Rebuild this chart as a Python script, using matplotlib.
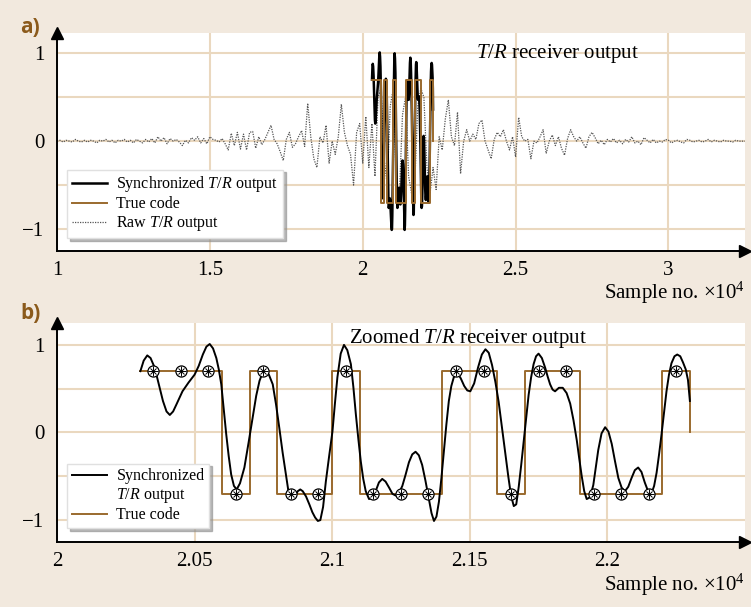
import numpy as np
import matplotlib.pyplot as plt
from matplotlib.lines import Line2D

plt.rcParams['font.family'] = 'Liberation Serif'
plt.rcParams['mathtext.fontset'] = 'custom'
plt.rcParams['mathtext.rm'] = 'Liberation Serif'
plt.rcParams['mathtext.it'] = 'Liberation Serif:italic'

# raw T/R output, one value every 0.01 (x10^4 samples) starting at 1.00
raw_start = 1.00
raw_step = 0.01
raw_vals = [
    0.00, 0.01, -0.01, 0.01, 0.00, -0.01, 0.02, 0.00, -0.01, 0.01,      # 1.00
    -0.01, 0.01, 0.00, -0.02, 0.01, 0.00, 0.02, -0.01, 0.01, -0.02,     # 1.10
    0.01, 0.00, 0.02, -0.01, 0.01, -0.02, 0.02, 0.00, -0.02, 0.02,      # 1.20
    -0.01, 0.03, -0.02, 0.05, 0.00, 0.04, -0.03, 0.03, 0.00, 0.02,      # 1.30
    -0.01, -0.05, 0.01, -0.02, 0.04, 0.01, 0.05, -0.02, 0.03, -0.03,    # 1.40
    0.05, 0.02, 0.01, -0.01, 0.03, -0.03, -0.10, 0.09, -0.05, 0.10,     # 1.50
    -0.09, 0.08, -0.10, 0.10, 0.11, -0.08, 0.05, -0.04, 0.02, 0.10,     # 1.60
    0.18, 0.02, -0.03, -0.12, -0.22, 0.02, 0.10, -0.07, -0.03, 0.05,    # 1.70
    0.12, -0.06, 0.43, 0.05, -0.20, -0.30, 0.05, -0.02, 0.18, -0.25,    # 1.80
    0.00, -0.15, 0.05, 0.42, 0.10, -0.05, -0.15, -0.50, 0.10, 0.20,     # 1.90
    -0.25, 0.28, -0.30, 0.20, -0.40, 0.50, 0.60, -0.20, -0.50, 0.40,    # 2.00
    0.60, -0.50, -0.60, 0.30, 0.50, -0.40, -0.60, -0.50, 0.40, 0.60,    # 2.10
    0.50, -0.30, -0.60, -0.30, -0.55, 0.05, -0.10, 0.25, 0.47, 0.05,    # 2.20
    -0.05, 0.33, -0.37, 0.00, 0.13, 0.00, 0.08, 0.02, 0.20, 0.24,       # 2.30
    0.00, -0.10, -0.20, 0.02, 0.10, 0.05, 0.13, 0.00, -0.10, 0.05,      # 2.40
    -0.18, 0.27, 0.05, 0.00, 0.02, -0.20, 0.00, -0.02, 0.05, 0.13,      # 2.50
    -0.14, 0.00, 0.07, -0.05, 0.05, -0.08, -0.16, 0.03, 0.13, 0.05,     # 2.60
    0.00, 0.05, -0.02, -0.08, 0.05, 0.10, 0.04, -0.03, 0.01, -0.04,     # 2.70
    0.02, -0.01, 0.03, -0.02, 0.01, -0.03, 0.02, -0.01, 0.05, -0.02,    # 2.80
    0.00, -0.04, 0.04, 0.01, -0.02, 0.02, -0.02, 0.00, -0.01, 0.02,     # 2.90
    0.01, -0.02, 0.00, 0.01, -0.01, -0.02, 0.02, 0.01, -0.01, 0.00,     # 3.00
    0.01, -0.01, 0.00, 0.02, -0.01, 0.01, 0.00, -0.01, 0.01, 0.00,      # 3.10
    0.00, -0.01, 0.01, 0.00, 0.00, 0.00,                                # 3.20
]

# synchronized T/R output (x10^4 samples, amplitude)
sync_x = [
    2.0303, 2.0315, 2.0328, 2.0340, 2.0355, 2.0370, 2.0385, 2.0398, 2.0410, 2.0422,
    2.0434, 2.0456, 2.0478, 2.0500, 2.0515, 2.0530, 2.0543, 2.0555, 2.0567, 2.0579,
    2.0588, 2.0597, 2.0606, 2.0615, 2.0624, 2.0633, 2.0643, 2.0653, 2.0665, 2.0681,
    2.0696, 2.0711, 2.0724, 2.0736, 2.0747, 2.0757, 2.0770, 2.0784, 2.0796, 2.0808,
    2.0820, 2.0832, 2.0841, 2.0850, 2.0862, 2.0875, 2.0884, 2.0893, 2.0905, 2.0917,
    2.0928, 2.0938, 2.0948, 2.0957, 2.0967, 2.0977, 2.0989, 2.1001, 2.1010, 2.1019,
    2.1031, 2.1043, 2.1055, 2.1068, 2.1077, 2.1086, 2.1095, 2.1104, 2.1113, 2.1122,
    2.1134, 2.1146, 2.1158, 2.1170, 2.1182, 2.1194, 2.1207, 2.1219, 2.1231, 2.1243,
    2.1255, 2.1267, 2.1279, 2.1291, 2.1303, 2.1315, 2.1327, 2.1339, 2.1351, 2.1361,
    2.1370, 2.1379, 2.1388, 2.1397, 2.1406, 2.1415, 2.1424, 2.1433, 2.1442, 2.1455,
    2.1467, 2.1480, 2.1491, 2.1502, 2.1516, 2.1530, 2.1544, 2.1557, 2.1569, 2.1581,
    2.1593, 2.1605, 2.1617, 2.1629, 2.1640, 2.1650, 2.1660, 2.1669, 2.1678, 2.1687,
    2.1696, 2.1705, 2.1714, 2.1723, 2.1732, 2.1741, 2.1750, 2.1762, 2.1774, 2.1783,
    2.1792, 2.1801, 2.1810, 2.1824, 2.1838, 2.1852, 2.1865, 2.1877, 2.1889, 2.1898,
    2.1907, 2.1916, 2.1925, 2.1937, 2.1949, 2.1958, 2.1967, 2.1979, 2.1992, 2.2004,
    2.2016, 2.2028, 2.2040, 2.2052, 2.2064, 2.2076, 2.2088, 2.2100, 2.2112, 2.2124,
    2.2136, 2.2148, 2.2160, 2.2170, 2.2179, 2.2188, 2.2197, 2.2206, 2.2215, 2.2224,
    2.2233, 2.2244, 2.2254, 2.2265, 2.2275, 2.2285, 2.2293, 2.2300,
]
sync_y = [
    0.70, 0.82, 0.88, 0.85, 0.74, 0.55, 0.36, 0.24, 0.20, 0.24,
    0.32, 0.47, 0.57, 0.66, 0.76, 0.89, 0.98, 1.01, 0.96, 0.85,
    0.72, 0.55, 0.27, -0.02, -0.27, -0.48, -0.61, -0.65, -0.58, -0.40,
    -0.12, 0.17, 0.42, 0.59, 0.68, 0.71, 0.66, 0.55, 0.32, 0.05,
    -0.23, -0.48, -0.67, -0.76, -0.74, -0.67, -0.65, -0.67, -0.73, -0.82,
    -0.91, -0.97, -1.01, -1.00, -0.85, -0.56, -0.27, 0.01, 0.33, 0.63,
    0.90, 1.00, 0.94, 0.78, 0.52, 0.21, -0.07, -0.33, -0.53, -0.67,
    -0.76, -0.74, -0.67, -0.57, -0.53, -0.56, -0.63, -0.70, -0.72, -0.69,
    -0.61, -0.48, -0.34, -0.25, -0.22, -0.26, -0.37, -0.55, -0.75, -0.92,
    -1.01, -0.96, -0.79, -0.52, -0.21, 0.09, 0.36, 0.53, 0.63, 0.68,
    0.62, 0.53, 0.48, 0.47, 0.56, 0.74, 0.89, 0.95, 0.91, 0.77,
    0.58, 0.35, 0.06, -0.23, -0.50, -0.72, -0.84, -0.82, -0.62, -0.37,
    -0.10, 0.17, 0.43, 0.63, 0.78, 0.87, 0.90, 0.85, 0.74, 0.64,
    0.55, 0.49, 0.47, 0.51, 0.51, 0.45, 0.33, 0.14, -0.09, -0.30,
    -0.50, -0.67, -0.76, -0.74, -0.60, -0.40, -0.20, -0.01, 0.06, 0.01,
    -0.13, -0.33, -0.52, -0.63, -0.67, -0.62, -0.52, -0.43, -0.40, -0.45,
    -0.57, -0.67, -0.70, -0.61, -0.46, -0.25, -0.02, 0.23, 0.47, 0.66,
    0.79, 0.87, 0.89, 0.87, 0.80, 0.72, 0.60, 0.36,
]

# true code: one bit every 0.01 (x10^4 samples) from 2.03
code_bits = [1, 1, 1, -1, 1, -1, -1, 1, -1, -1, -1, 1, 1, -1, 1, 1, -1, -1, -1, 1]
code_start = 2.03
code_width = 0.01
code_level = 0.7

bg = '#f2e9de'
grid_c = '#ead8bf'
brown = '#9a6a2e'

raw_x = raw_start + raw_step * np.arange(len(raw_vals))
edges = code_start + code_width * np.arange(len(code_bits) + 1)
code_y = code_level * np.array(code_bits + [0])
centers = code_start + code_width * (np.arange(len(code_bits)) + 0.5)
sample_y = code_level * np.array(code_bits)

fig = plt.figure(figsize=(7.51, 6.07), dpi=100, facecolor=bg)
axa = fig.add_axes([0.0759, 0.5865, 0.916, 0.359])
axb = fig.add_axes([0.0759, 0.1071, 0.916, 0.3608])


def style(ax, xlim, ylim, xticks, xlabels):
    ax.set_facecolor('white')
    ax.set_xlim(*xlim)
    ax.set_ylim(*ylim)
    ax.set_xticks(xticks)
    ax.set_xticklabels(xlabels)
    ax.set_yticks([-1, 0, 1])
    ax.set_yticklabels(['\u22121', '0', '1'])
    ax.set_yticks([-0.5, 0.5], minor=True)
    ax.tick_params(which='both', length=0, labelsize=15)
    ax.tick_params(axis='x', pad=7)
    ax.tick_params(axis='y', pad=9)
    ax.grid(True, which='both', color=grid_c, lw=1.5)
    ax.set_axisbelow(True)
    for s in ['top', 'right']:
        ax.spines[s].set_visible(False)
    for s in ['left', 'bottom']:
        ax.spines[s].set_linewidth(1.4)
    ax.plot(1, 0, marker='>', color='black', ms=8, transform=ax.transAxes, clip_on=False)
    ax.plot(0, 1, marker='^', color='black', ms=8, transform=ax.transAxes, clip_on=False)


leg_kw = dict(loc='lower left', fontsize=11.5, frameon=True, fancybox=False,
              edgecolor='#e0e0e0', framealpha=1, shadow={'color': '0.55', 'alpha': 0.6},
              handlelength=2.2, handletextpad=0.6, labelspacing=0.12, borderpad=0.3,
              borderaxespad=0)

# panel a
style(axa, (1.0, 3.25), (-1.25, 1.23), [1, 1.5, 2, 2.5, 3], ['1', '1.5', '2', '2.5', '3'])
axa.plot(raw_x, raw_vals, color='#555555', ls=(0, (1, 1)), lw=0.9, zorder=2)
axa.plot(sync_x, sync_y, color='black', lw=1.8, zorder=3)
axa.step(edges, code_y, where='post', color=brown, lw=1.4, zorder=4)
axa.text(0.728, 0.908, r'$\mathit{T/R}$ receiver output', transform=axa.transAxes,
         ha='center', va='center', fontsize=15)
axa.legend([Line2D([], [], color='black', lw=1.8),
            Line2D([], [], color=brown, lw=1.4),
            Line2D([], [], color='#555555', ls=(0, (1, 1)), lw=0.9)],
           [r'Synchronized $\mathit{T/R}$ output', 'True code', r'Raw $\mathit{T/R}$ output'],
           bbox_to_anchor=(0.0145, 0.06), **leg_kw)

# panel b
style(axb, (2.0, 2.25), (-1.25, 1.25), [2, 2.05, 2.1, 2.15, 2.2], ['2', '2.05', '2.1', '2.15', '2.2'])
axb.step(edges, code_y, where='post', color=brown, lw=1.4, zorder=3)
axb.plot(sync_x, sync_y, color='black', lw=1.4, zorder=4)
axb.plot(centers, sample_y, ls='none', marker='o', ms=8, mfc='white', mec='black', mew=0.9, zorder=5)
axb.plot(centers, sample_y, ls='none', marker='+', ms=7, mec='black', mew=0.7, zorder=6)
axb.plot(centers, sample_y, ls='none', marker='x', ms=5, mec='black', mew=0.7, zorder=6)
axb.text(0.597, 0.93, r'Zoomed $\mathit{T/R}$ receiver output', transform=axb.transAxes,
         ha='center', va='center', fontsize=15)
axb.legend([Line2D([], [], color='black', lw=1.4),
            Line2D([], [], color='none'),
            Line2D([], [], color=brown, lw=1.4)],
           ['Synchronized', r'$\mathit{T/R}$ output', 'True code'],
           bbox_to_anchor=(0.0145, 0.064), **leg_kw)

# axis labels and panel letters
fig.text(0.992, 0.517, r'Sample no. $\mathregular{\times 10^4}$', ha='right', va='center', fontsize=15)
fig.text(0.992, 0.037, r'Sample no. $\mathregular{\times 10^4}$', ha='right', va='center', fontsize=15)
fig.text(0.027, 0.955, 'a)', ha='left', va='center', fontsize=15, fontweight='bold',
         family='Open Sans', color='#8b5a1b')
fig.text(0.027, 0.483, 'b)', ha='left', va='center', fontsize=15, fontweight='bold',
         family='Open Sans', color='#8b5a1b')

fig.savefig('out.png', dpi=100, facecolor=bg)
